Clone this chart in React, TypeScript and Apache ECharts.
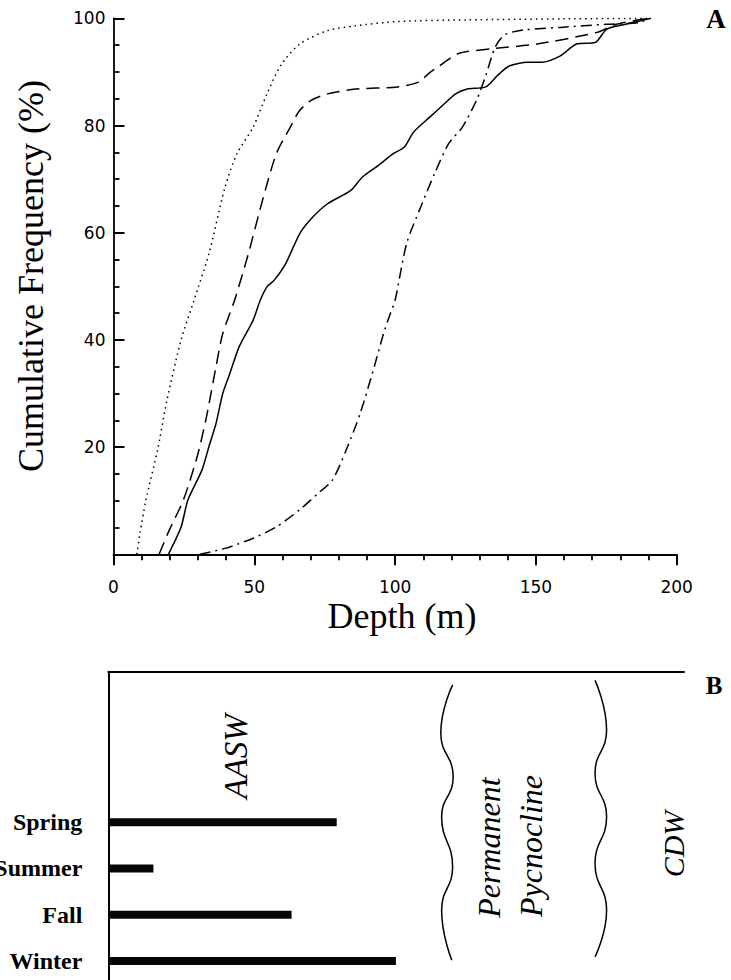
import React, { useEffect, useRef } from "react";
import * as echarts from "echarts";

// ---- Panel A: cumulative frequency curves, [depth (m), cumulative %] ----
const DOTTED: number[][] = [
  [8.3, 0], [9.4, 3.9], [11.5, 10.1], [15.7, 19.6], [19, 28.8], [24, 40], [28.6, 47.4],
  [33.9, 56.1], [39.6, 68.5], [43.8, 74.7], [49.6, 79.7], [54.5, 85.9], [59.5, 91.3],
  [66.1, 95.2], [76, 97.7], [85.9, 98.6], [100.8, 99.4], [125.6, 99.7], [160, 99.9], [191, 100],
];
const DASHED: number[][] = [
  [16.2, 0], [19.8, 4.5], [24.8, 10.1], [29.7, 18.2], [33, 25.6], [36.4, 35], [38.8, 41.2],
  [43, 47.4], [47.9, 56.1], [52.9, 66], [57.8, 74.7], [62.8, 79.7], [66.1, 82.8], [70.2, 84.7],
  [76, 85.9], [85.9, 86.8], [100.8, 87.2], [108.3, 88.1], [112.4, 89.9], [115.7, 91.1],
  [122.3, 93.4], [133.9, 94.3], [150.4, 95.2], [171.9, 97.4], [178.5, 98.9], [190, 100],
];
const SOLID: number[][] = [
  [19.5, 0], [24, 5.1], [26.4, 10.1], [31.4, 15.7], [33.9, 20.1], [36.4, 24.4], [38.8, 30],
  [41.3, 33.7], [44.6, 38.7], [49.6, 43.7], [52.1, 47.4], [54.5, 49.9], [57, 51.1], [61.1, 54.2],
  [66.1, 59.8], [70.2, 62.6], [76, 65.4], [84.3, 67.9], [88.4, 70.4], [94.2, 72.6], [99.2, 74.7],
  [103.3, 76], [106.6, 78.8], [112.4, 81.6], [117.4, 84], [121.5, 85.9], [125.6, 86.8],
  [132.2, 87.2], [136.3, 89.3], [140.5, 91.1], [147.1, 91.8], [152.1, 91.8], [158.7, 93],
  [164.4, 95.2], [171.1, 95.5], [175.2, 98], [181.8, 98.9], [190.9, 100],
];
const DASHDOT: number[][] = [
  [30.6, 0], [39.6, 1.1], [49.6, 3], [57.8, 5.1], [66.1, 8.3], [72.7, 11.4], [77.7, 13.8],
  [82.6, 19.4], [87.6, 26.3], [92.6, 35], [95.9, 41.2], [98.3, 44.9], [100, 47.4], [104.1, 58],
  [109.1, 64.8], [114, 71], [119, 76.6], [123.9, 79.7], [128.9, 84.7], [132.2, 89.3],
  [135.5, 94.6], [138.8, 96.9], [145.4, 97.8], [158.7, 98.3], [175.2, 98.9], [186.8, 99.2], [190, 100],
];
const X_TICKS = [0, 50, 100, 150, 200];
const Y_TICKS = [20, 40, 60, 80, 100];

// ---- Panel B: depth (m) of AASW by season ----
const SEASONS = ["Winter", "Fall", "Summer", "Spring"];
const SEASON_DEPTH = [102, 65, 16, 81];

// wavy boundaries: [depth (m), vertical position in panel rows]
const WAVE_UPPER: number[][] = [
  [122.1, 6.47], [117.9, 5.43], [122.3, 4.48], [118.2, 3.62], [122.1, 2.54], [118.2, 1.6], [121.8, 0.52],
];
const WAVE_LOWER: number[][] = [
  [172.6, 6.57], [176.7, 5.49], [172.6, 4.56], [176.7, 3.62], [172.6, 2.61], [176.7, 1.6], [172.6, 0.59],
];

const SERIF = "'Liberation Serif', 'Times New Roman', serif";
const SANS = "'DejaVu Sans', Verdana, sans-serif";

function txt(text: string, x: number, y: number, font: string, rot = 0) {
  return {
    type: "text",
    x,
    y,
    rotation: rot,
    silent: true,
    style: {
      text,
      font,
      fill: "#000",
      align: "center",
      verticalAlign: "middle",
      textAlign: "center",
      textVerticalAlign: "middle",
    },
  };
}

export default function App() {
  const ref = useRef<HTMLDivElement>(null);
  useEffect(() => {
    if (!ref.current) return;
    const chart = echarts.init(ref.current, undefined, { renderer: "svg" });
    const lineSeries = (data: number[][], type: any) => ({
      type: "line",
      xAxisIndex: 0,
      yAxisIndex: 0,
      data,
      smooth: 0.25,
      symbol: "none",
      lineStyle: { color: "#000", width: 1.5, type },
      silent: true,
    });
    const waveSeries = (data: number[][]) => ({
      type: "line",
      xAxisIndex: 1,
      yAxisIndex: 1,
      data,
      smooth: 0.5,
      symbol: "none",
      lineStyle: { color: "#000", width: 1.5 },
      silent: true,
    });
    chart.setOption({
      animation: false,
      backgroundColor: "#fff",
      grid: [
        { left: 113.5, top: 18.3, width: 563.2, height: 536, outerBoundsMode: "none", containLabel: false },
        { left: 108.3, top: 672, width: 575.7, height: 312.2, outerBoundsMode: "none", containLabel: false },
        { left: 108.3, top: 799, width: 564, height: 185, outerBoundsMode: "none", containLabel: false },
      ],
      xAxis: [
        {
          gridIndex: 0,
          type: "value",
          min: 0,
          max: 200,
          interval: 50,
          axisLine: { show: true, onZero: false, lineStyle: { color: "#000", width: 1.8 } },
          axisTick: { show: true, length: 11, lineStyle: { color: "#000", width: 2 } },
          minorTick: { show: true, splitNumber: 5, length: 6, lineStyle: { color: "#000", width: 1.8 } },
          splitLine: { show: false },
          axisLabel: {
            margin: 24,
            color: "#000",
            fontFamily: SANS,
            fontSize: 17,
            formatter: (v: number) => (X_TICKS.includes(v) ? String(v) : ""),
          },
        },
        {
          gridIndex: 1,
          type: "value",
          min: 0,
          max: 204.15,
          position: "top",
          axisLine: { show: true, onZero: false, lineStyle: { color: "#000", width: 2 } },
          axisTick: { show: false },
          axisLabel: { show: false },
          splitLine: { show: false },
        },
        { gridIndex: 2, type: "value", min: 0, max: 200, show: false },
      ],
      yAxis: [
        {
          gridIndex: 0,
          type: "value",
          min: 0,
          max: 100,
          interval: 20,
          axisLine: { show: true, onZero: false, lineStyle: { color: "#000", width: 1.8 } },
          axisTick: { show: true, inside: true, length: 11, lineStyle: { color: "#000", width: 2 } },
          minorTick: { show: true, splitNumber: 4, length: 6, lineStyle: { color: "#000", width: 1.8 } },
          splitLine: { show: false },
          axisLabel: {
            margin: 8,
            color: "#000",
            fontFamily: SANS,
            fontSize: 17,
            formatter: (v: number) => (Y_TICKS.includes(v) ? String(v) : ""),
          },
        },
        {
          gridIndex: 1,
          type: "value",
          min: 0,
          max: 6.75,
          axisLine: { show: true, onZero: false, lineStyle: { color: "#000", width: 2 } },
          axisTick: { show: false },
          axisLabel: { show: false },
          splitLine: { show: false },
        },
        {
          gridIndex: 2,
          type: "category",
          data: SEASONS,
          axisLine: { show: false },
          axisTick: { show: false },
          splitLine: { show: false },
          axisLabel: {
            margin: 26,
            color: "#000",
            fontFamily: SERIF,
            fontWeight: "bold",
            fontSize: 24,
          },
        },
      ],
      series: [
        lineSeries(DOTTED, [1.5, 4]),
        lineSeries(DASHED, [13, 7]),
        lineSeries(SOLID, "solid"),
        lineSeries(DASHDOT, [11, 5, 2, 5]),
        waveSeries(WAVE_UPPER),
        waveSeries(WAVE_LOWER),
        {
          type: "bar",
          xAxisIndex: 2,
          yAxisIndex: 2,
          data: SEASON_DEPTH,
          barWidth: 8,
          itemStyle: { color: "#050505" },
          silent: true,
        },
      ],
      graphic: [
        txt("A", 716, 19, `bold 27px ${SERIF}`),
        txt("B", 714, 685, `bold 25px ${SERIF}`),
        txt("Cumulative Frequency (%)", 31, 276, `36px ${SERIF}`, Math.PI / 2),
        txt("Depth (m)", 402, 616, `36px ${SERIF}`),
        txt("AASW", 235.6, 756.5, `italic 33px ${SERIF}`, Math.PI / 2),
        txt("Permanent", 489.2, 847.5, `italic 32px ${SERIF}`, Math.PI / 2),
        txt("Pycnocline", 530.9, 846, `italic 32px ${SERIF}`, Math.PI / 2),
        txt("CDW", 673.9, 844, `italic 30px ${SERIF}`, Math.PI / 2),
      ],
    });
    return () => chart.dispose();
  }, []);
  return (
    <div
      ref={ref}
      style={{ position: "fixed", left: 0, top: 0, width: 731, height: 980, background: "#fff" }}
    />
  );
}
